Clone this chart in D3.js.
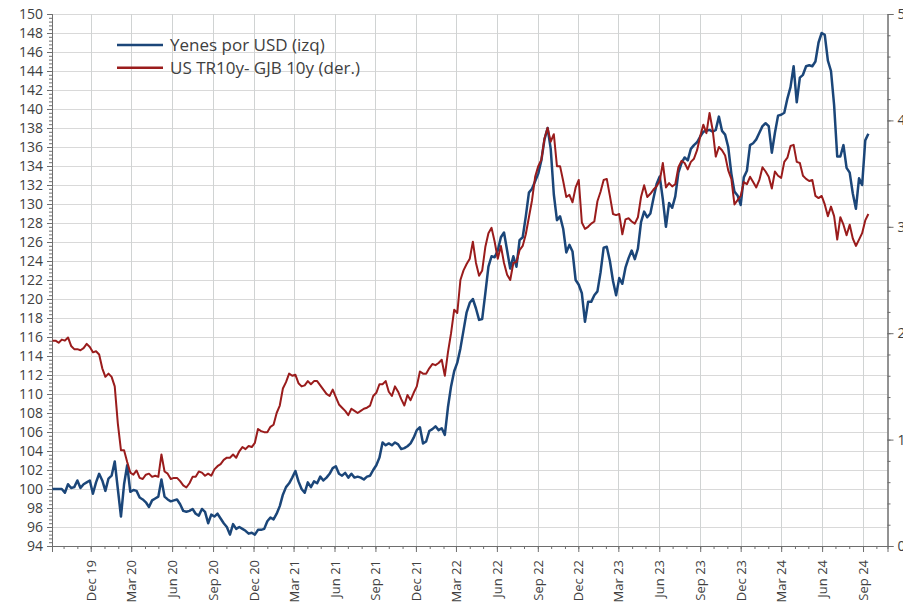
<!DOCTYPE html>
<html>
<head>
<meta charset="utf-8">
<script src="https://cdn.jsdelivr.net/npm/d3@7"></script>
<style>
  body { margin: 0; background: #fff; }
  text { font-family: "Open Sans", sans-serif; fill: #404040; }
</style>
</head>
<body>
<div id="chart"></div>
<script>
// weekly observations, first one on this date
const firstWeek = '2019-09-06';

const yen = [
  100.0, 100.0, 100.0, 100.0, 99.6, 100.5, 100.1, 100.2, 100.9, 100.1,
  100.5, 100.7, 100.9, 99.5, 100.7, 101.6, 100.9, 99.8, 101.1, 101.4,
  102.9, 100.0, 97.1, 100.5, 102.5, 99.7, 99.9, 99.8, 99.1, 98.9,
  98.6, 98.1, 98.8, 99.0, 99.2, 101.0, 99.2, 98.9, 98.7, 98.8,
  98.9, 98.4, 97.7, 97.6, 97.7, 97.9, 97.4, 97.2, 97.9, 97.6,
  96.4, 97.3, 97.1, 97.4, 96.9, 96.4, 96.0, 95.2, 96.3, 95.8,
  96.0, 95.8, 95.6, 95.3, 95.4, 95.2, 95.7, 95.7, 95.8, 96.6,
  97.0, 96.8, 97.4, 98.2, 99.4, 100.2, 100.6, 101.2, 101.9, 100.8,
  100.0, 99.6, 100.7, 100.2, 100.8, 100.6, 101.3, 100.9, 101.2, 101.6,
  102.2, 102.4, 101.6, 101.4, 101.7, 101.2, 101.6, 101.2, 101.3, 101.2,
  101.0, 101.3, 101.4, 102.0, 102.5, 103.3, 104.9, 104.6, 104.8, 104.6,
  104.9, 104.7, 104.2, 104.3, 104.5, 104.8, 105.4, 106.2, 106.5, 104.8,
  105.0, 106.1, 106.3, 106.6, 106.2, 106.4, 105.7, 108.6, 110.8, 112.4,
  113.3, 114.8, 116.7, 118.6, 119.6, 120.0, 119.0, 117.8, 117.9, 120.6,
  123.4, 124.5, 124.4, 125.1, 126.5, 127.0, 125.1, 123.2, 124.5, 123.4,
  126.2, 126.5, 128.7, 131.2, 131.6, 132.4, 133.2, 134.6, 136.8, 138.0,
  135.8, 131.0, 128.3, 128.7, 127.4, 124.9, 125.7, 125.0, 122.0, 121.5,
  120.6, 117.6, 119.7, 119.7, 120.4, 120.8, 122.8, 125.4, 125.5, 124.0,
  121.9, 120.4, 122.2, 121.6, 123.3, 124.3, 125.1, 124.2, 125.3, 128.1,
  129.2, 128.6, 129.0, 130.6, 132.1, 132.9, 130.5, 127.6, 130.1, 129.6,
  130.8, 133.3, 134.3, 134.9, 134.6, 135.8, 136.2, 136.5, 137.1, 137.6,
  137.7, 137.8, 137.6, 137.8, 139.2, 137.7, 137.3, 136.0, 133.2, 131.3,
  130.9, 129.9, 132.8, 133.5, 136.2, 136.4, 136.8, 137.5, 138.2, 138.5,
  138.2, 135.4, 137.5, 139.3, 139.4, 139.6, 141.1, 142.3, 144.5, 140.7,
  143.3, 143.6, 144.5, 144.6, 144.5, 145.0, 147.0, 148.0, 147.8, 145.1,
  144.0, 140.4, 135.0, 135.0, 136.2, 133.8, 133.3, 131.1, 129.5, 132.7,
  132.0, 136.7, 137.4
];

const spread = [
  1.93, 1.93, 1.91, 1.94, 1.93, 1.96, 1.88, 1.85, 1.85, 1.84,
  1.86, 1.90, 1.87, 1.82, 1.83, 1.80, 1.67, 1.59, 1.62, 1.59,
  1.50, 1.15, 0.90, 0.90, 0.79, 0.69, 0.67, 0.71, 0.64, 0.63,
  0.67, 0.68, 0.65, 0.66, 0.65, 0.86, 0.70, 0.68, 0.63, 0.64,
  0.64, 0.61, 0.57, 0.55, 0.59, 0.65, 0.65, 0.70, 0.69, 0.66,
  0.68, 0.66, 0.72, 0.75, 0.77, 0.81, 0.83, 0.83, 0.86, 0.83,
  0.89, 0.93, 0.91, 0.94, 0.93, 0.97, 1.10, 1.08, 1.07, 1.07,
  1.12, 1.14, 1.25, 1.32, 1.48, 1.54, 1.62, 1.60, 1.61, 1.53,
  1.50, 1.51, 1.55, 1.52, 1.55, 1.55, 1.51, 1.47, 1.43, 1.41,
  1.47, 1.40, 1.33, 1.30, 1.27, 1.23, 1.29, 1.27, 1.25, 1.27,
  1.29, 1.30, 1.32, 1.41, 1.44, 1.52, 1.52, 1.55, 1.45, 1.41,
  1.50, 1.45, 1.38, 1.32, 1.42, 1.37, 1.44, 1.50, 1.64, 1.62,
  1.62, 1.67, 1.71, 1.70, 1.72, 1.75, 1.60, 1.82, 2.00, 2.22,
  2.19, 2.50, 2.59, 2.65, 2.70, 2.86, 2.66, 2.54, 2.59, 2.81,
  2.94, 2.99, 2.86, 2.70, 2.82, 2.66, 2.55, 2.50, 2.66, 2.67,
  2.78, 2.82, 2.93, 3.09, 3.25, 3.47, 3.57, 3.63, 3.83, 3.93,
  3.80, 3.87, 3.57, 3.57, 3.43, 3.28, 3.30, 3.23, 3.37, 3.44,
  3.04, 2.98, 3.00, 3.03, 3.05, 3.24, 3.33, 3.44, 3.45, 3.29,
  3.12, 3.11, 3.12, 2.93, 3.07, 3.08, 3.05, 3.03, 3.09, 3.28,
  3.39, 3.28, 3.31, 3.35, 3.38, 3.43, 3.60, 3.37, 3.41, 3.38,
  3.40, 3.56, 3.62, 3.60, 3.54, 3.61, 3.64, 3.72, 3.85, 3.96,
  3.88, 4.07, 3.91, 3.66, 3.75, 3.72, 3.67, 3.53, 3.45, 3.21,
  3.25, 3.29, 3.42, 3.40, 3.47, 3.42, 3.37, 3.44, 3.56, 3.52,
  3.47, 3.36, 3.52, 3.48, 3.46, 3.61, 3.65, 3.76, 3.77, 3.61,
  3.60, 3.48, 3.45, 3.43, 3.44, 3.29, 3.27, 3.29, 3.21, 3.10,
  3.19, 3.10, 2.88, 3.09, 3.02, 2.92, 3.02, 2.89, 2.82, 2.88,
  2.94, 3.06, 3.12
];

const seriesNames = ['Yenes por USD (izq)', 'US TR10y- GJB 10y (der.)'];
const seriesColors = ['#1b4679', '#9a1c1c'];
const leftTicks = d3.range(94, 151, 2);
const rightTicks = [0, 1, 2, 3, 4, 5];

const width = 903, height = 606;
const margin = { top: 14, right: 15.5, bottom: 60, left: 52 };
const innerW = width - margin.left - margin.right,
  innerH = height - margin.top - margin.bottom;

const parse = d3.timeParse('%Y-%m-%d');
const start = parse(firstWeek);
const dates = yen.map((d, i) => d3.timeDay.offset(start, 7 * i));

const x = d3.scaleTime()
  .domain([parse('2019-09-05'), parse('2024-10-26')])
  .range([0, innerW]);
const yL = d3.scaleLinear().domain([94, 150]).range([innerH, 0]);
const yR = d3.scaleLinear().domain([0, 5]).range([innerH, 0]);

const svg = d3.select('#chart')
  .append('svg')
  .attr('width', width)
  .attr('height', height)
  .append('g')
  .attr('transform', 'translate(' + margin.left + ',' + margin.top + ')');

const months = d3.timeMonth.range(d3.timeMonth.ceil(x.domain()[0]), x.domain()[1]);
const quarters = months.filter(m => m.getMonth() % 3 === 2);

// grid
svg.append('g')
  .selectAll('line')
  .data(leftTicks.slice(1))
  .enter()
  .append('line')
  .attr('x1', 0)
  .attr('x2', innerW)
  .attr('y1', d => Math.round(yL(d)) + 0.5)
  .attr('y2', d => Math.round(yL(d)) + 0.5)
  .attr('stroke', '#d9d9d9');

svg.append('g')
  .selectAll('line')
  .data(quarters)
  .enter()
  .append('line')
  .attr('x1', d => Math.round(x(d)) + 0.5)
  .attr('x2', d => Math.round(x(d)) + 0.5)
  .attr('y1', 0)
  .attr('y2', innerH)
  .attr('stroke', '#d0d3d3');

// left axis
const left = d3.axisLeft(yL).tickValues(leftTicks).tickSize(5).tickPadding(4);
const gL = svg.append('g').call(left);
gL.selectAll('text').style('font-size', '14px');
svg.append('g')
  .call(d3.axisLeft(yL).tickValues(d3.range(94, 150.01, 0.4)).tickSize(3).tickFormat(''));

// right axis (labels run off the edge, as in the original)
const gR = svg.append('g')
  .attr('transform', 'translate(' + innerW + ',0)')
  .call(d3.axisRight(yR).tickValues(rightTicks).tickSize(6).tickPadding(4));
gR.selectAll('text').style('font-size', '14px');
svg.append('g')
  .attr('transform', 'translate(' + innerW + ',0)')
  .call(d3.axisRight(yR).tickValues(d3.range(0, 5.01, 0.2)).tickSize(3).tickFormat(''));

// bottom axis
svg.append('g')
  .attr('transform', 'translate(0,' + innerH + ')')
  .call(d3.axisBottom(x).tickValues(months).tickSize(3).tickFormat(''));
const gB = svg.append('g')
  .attr('transform', 'translate(0,' + innerH + ')')
  .call(d3.axisBottom(x).tickValues(quarters).tickSize(6).tickFormat(d3.timeFormat('%b %y')));
gB.selectAll('text')
  .style('font-size', '13px')
  .attr('text-anchor', 'end')
  .attr('transform', 'rotate(-90)')
  .attr('x', -14)
  .attr('y', 0)
  .attr('dy', '0.35em');

svg.selectAll('.domain, .tick line').attr('stroke', '#6e6e6e');
svg.selectAll('.tick text').attr('fill', '#404040');

// lines
const lineL = d3.line().x((d, i) => x(dates[i])).y(d => yL(d));
const lineR = d3.line().x((d, i) => x(dates[i])).y(d => yR(d));

svg.append('path')
  .datum(yen)
  .attr('d', lineL)
  .attr('fill', 'none')
  .attr('stroke', seriesColors[0])
  .attr('stroke-width', 2.5)
  .attr('stroke-linejoin', 'round');

svg.append('path')
  .datum(spread)
  .attr('d', lineR)
  .attr('fill', 'none')
  .attr('stroke', seriesColors[1])
  .attr('stroke-width', 2)
  .attr('stroke-linejoin', 'round');

// legend
const legend = svg.append('g').attr('transform', 'translate(65,31)');
seriesNames.forEach((name, i) => {
  const row = legend.append('g').attr('transform', 'translate(0,' + i * 22.7 + ')');
  row.append('line')
    .attr('x1', 0).attr('x2', 46)
    .attr('stroke', seriesColors[i])
    .attr('stroke-width', 2.5);
  row.append('text')
    .attr('x', 53)
    .attr('dy', '0.35em')
    .style('font-size', '17px')
    .attr('fill', '#262626')
    .text(name);
});
</script>
</body>
</html>
